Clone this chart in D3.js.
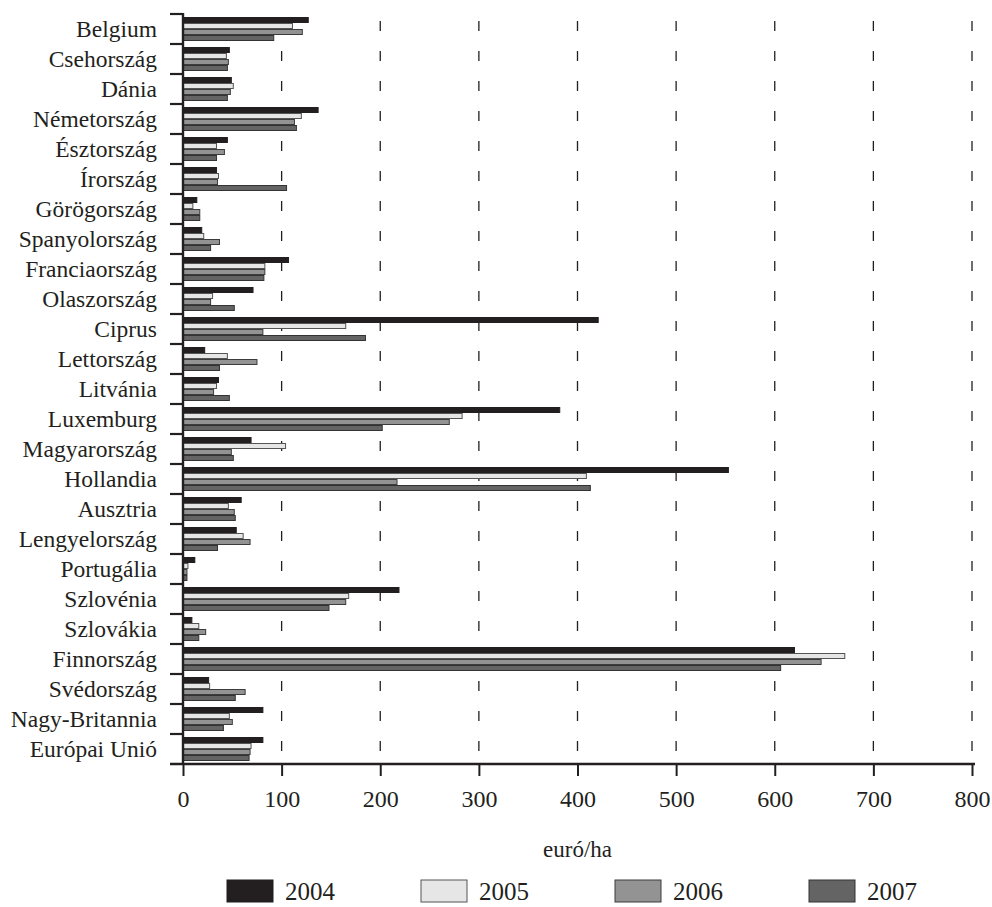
<!DOCTYPE html>
<html>
<head>
<meta charset="utf-8">
<script src="https://cdn.jsdelivr.net/npm/d3@7"></script>
<style>
  html, body { margin: 0; padding: 0; background: #fff; }
  svg { display: block; }
  text { font-family: "Liberation Serif", "Times New Roman", serif; fill: #231f20; }
</style>
</head>
<body>
<svg id="chart" width="992" height="907"></svg>
<script>
// Countries, top to bottom
const countries = [
  "Belgium", "Csehország", "Dánia", "Németország", "Észtország", "Írország",
  "Görögország", "Spanyolország", "Franciaország", "Olaszország", "Ciprus",
  "Lettország", "Litvánia", "Luxemburg", "Magyarország", "Hollandia",
  "Ausztria", "Lengyelország", "Portugália", "Szlovénia", "Szlovákia",
  "Finnország", "Svédország", "Nagy-Britannia", "Európai Unió"
];

const years = ["2004", "2005", "2006", "2007"];

// euró/ha per country, one array per year
const v2004 = [127, 47, 49, 137, 45, 34, 14, 19, 107, 71, 421, 22, 36, 382, 69, 553, 59, 54, 12, 219, 9, 620, 26, 81, 81];
const v2005 = [111, 44, 51, 120, 34, 36, 10, 21, 83, 30, 165, 45, 34, 283, 104, 409, 46, 61, 5, 168, 16, 671, 27, 47, 69];
const v2006 = [121, 46, 48, 113, 42, 35, 17, 37, 83, 28, 81, 75, 31, 270, 49, 217, 52, 68, 4, 165, 23, 647, 63, 50, 68];
const v2007 = [92, 45, 45, 115, 34, 105, 17, 28, 82, 52, 185, 37, 47, 202, 51, 413, 53, 35, 4, 148, 16, 606, 53, 41, 67];

const xTicks = [0, 100, 200, 300, 400, 500, 600, 700, 800];
const xTitle = "euró/ha";

const seriesValues = [v2004, v2005, v2006, v2007];
const fills   = ["#231f20", "#e6e6e6", "#939393", "#646464"];
const strokes = ["#231f20", "#555555", "#3c3c3c", "#333333"];

const svg = d3.select("#chart");
const ink = "#231f20";

const x = d3.scaleLinear().domain([0, 800]).range([183, 972]);
const y = d3.scaleBand().domain(countries).range([14, 764]).padding(0);
const inner = d3.scaleBand().domain(years).range([3, 27]).padding(0);

// dashed vertical grid
svg.append("g")
  .selectAll("line")
  .data(xTicks.filter(d => d > 0))
  .join("line")
  .attr("x1", d => x(d)).attr("x2", d => x(d))
  .attr("y1", 14).attr("y2", 764)
  .attr("stroke", ink)
  .attr("stroke-width", 1.3)
  .attr("stroke-dasharray", "10 20")
  .attr("stroke-dashoffset", 23);

// bars
const groups = svg.append("g")
  .selectAll("g")
  .data(countries)
  .join("g")
  .attr("transform", d => `translate(0,${y(d)})`);

groups.selectAll("rect")
  .data((c, i) => years.map((yr, k) => ({ yr, k, value: seriesValues[k][i] })))
  .join("rect")
  .attr("x", x(0))
  .attr("y", d => inner(d.yr) + 0.5)
  .attr("width", d => x(d.value) - x(0))
  .attr("height", inner.bandwidth() - 1)
  .attr("fill", d => fills[d.k])
  .attr("stroke", d => strokes[d.k])
  .attr("stroke-width", 1);

// x axis
const xAxis = svg.append("g")
  .attr("transform", "translate(0,764)")
  .call(d3.axisBottom(x).tickValues(xTicks).tickSize(12).tickSizeOuter(0).tickPadding(14));
xAxis.select(".domain").remove();
xAxis.selectAll(".tick line").attr("stroke", ink).attr("stroke-width", 2);
xAxis.selectAll(".tick text")
  .attr("font-size", 24)
  .attr("fill", ink)
  .style("font-family", "'Liberation Serif', serif");

svg.append("line")
  .attr("x1", 170).attr("x2", 975)
  .attr("y1", 764).attr("y2", 764)
  .attr("stroke", ink).attr("stroke-width", 2.4);

// y axis: line, boundary ticks, labels
svg.append("line")
  .attr("x1", x(0)).attr("x2", x(0))
  .attr("y1", 13).attr("y2", 764)
  .attr("stroke", ink).attr("stroke-width", 2.4);

svg.append("g")
  .selectAll("line")
  .data(countries)
  .join("line")
  .attr("x1", 170).attr("x2", x(0))
  .attr("y1", d => y(d)).attr("y2", d => y(d))
  .attr("stroke", ink).attr("stroke-width", 2.2);

const yAxis = svg.append("g")
  .attr("transform", `translate(${x(0)},0)`)
  .call(d3.axisLeft(y).tickSize(0).tickPadding(26));
yAxis.select(".domain").remove();
yAxis.selectAll(".tick text")
  .attr("font-size", 23.5)
  .attr("dy", "0.36em")
  .attr("fill", ink)
  .style("font-family", "'Liberation Serif', serif");

// axis title
svg.append("text")
  .attr("x", (x(0) + x(800)) / 2)
  .attr("y", 857)
  .attr("text-anchor", "middle")
  .attr("font-size", 23)
  .text(xTitle);

// legend
const legend = svg.append("g")
  .selectAll("g")
  .data(years)
  .join("g")
  .attr("transform", (d, i) => `translate(${227 + i * 194},880)`);

legend.append("rect")
  .attr("width", 46).attr("height", 22)
  .attr("fill", (d, i) => fills[i])
  .attr("stroke", (d, i) => strokes[i])
  .attr("stroke-width", 1);

legend.append("text")
  .attr("x", 58).attr("y", 20)
  .attr("font-size", 25)
  .text(d => d);
</script>
</body>
</html>
